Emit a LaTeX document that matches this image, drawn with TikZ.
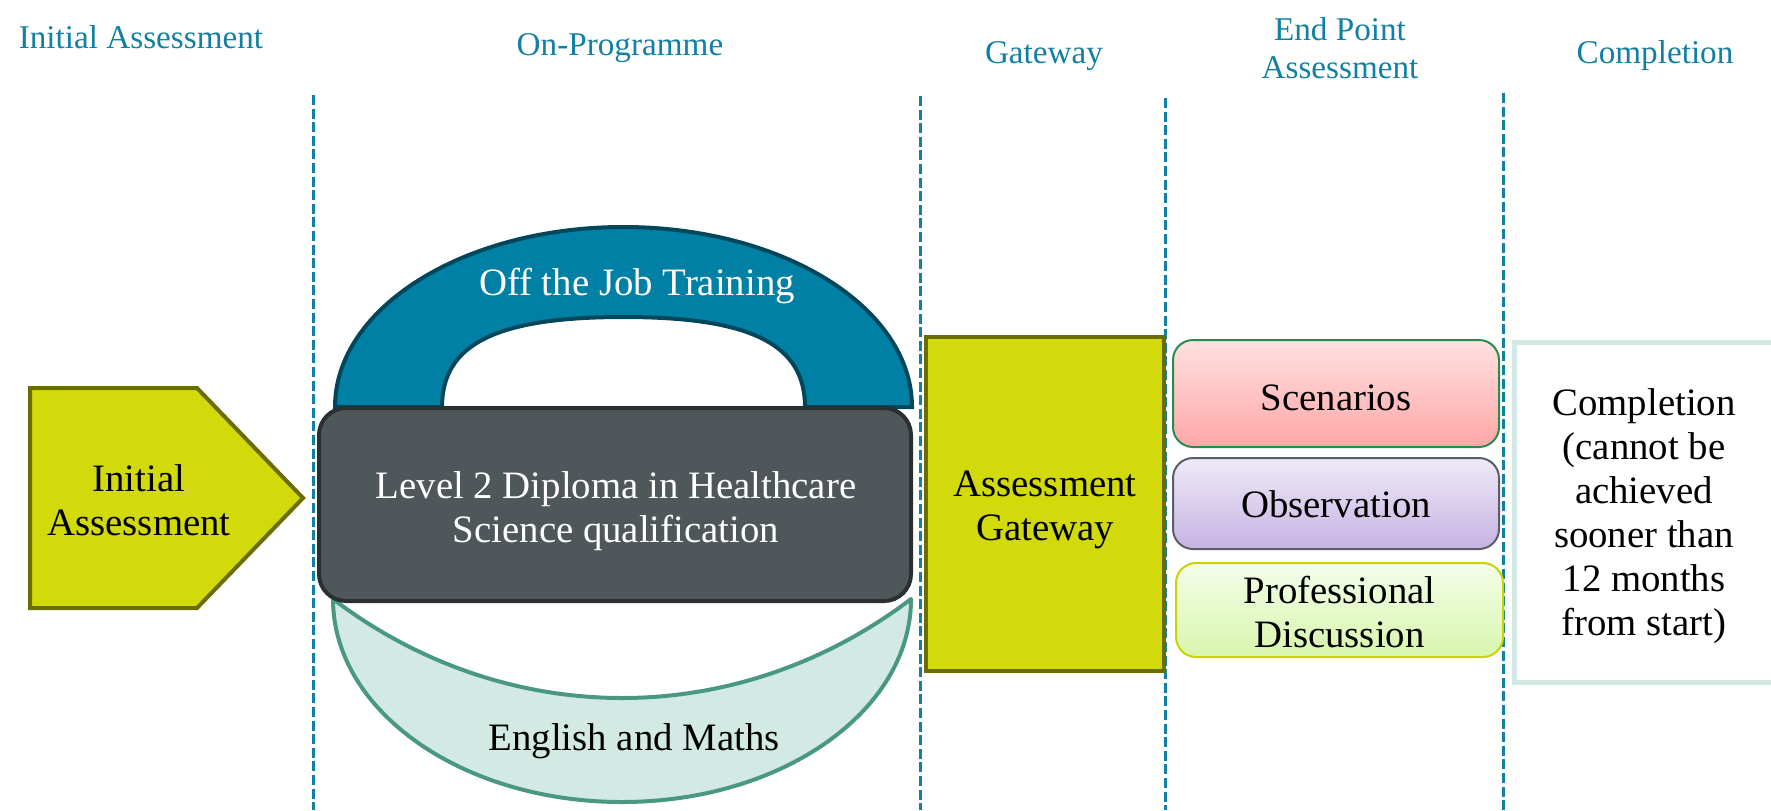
\documentclass[tikz,border=0pt]{standalone}
\usepackage{fontspec}
\setmainfont{Liberation Serif}
\usetikzlibrary{shadings}

\definecolor{hdrblue}{RGB}{17,128,163}
\definecolor{lime}{RGB}{210,218,12}
\definecolor{olive}{RGB}{107,109,0}
\definecolor{slate}{RGB}{80,87,90}
\definecolor{slateline}{RGB}{43,47,49}
\definecolor{archfill}{RGB}{0,128,164}
\definecolor{archline}{RGB}{0,71,92}
\definecolor{mint}{RGB}{211,234,228}
\definecolor{mintline}{RGB}{74,152,130}
\definecolor{pinktop}{RGB}{255,225,225}
\definecolor{pinkbot}{RGB}{255,166,166}
\definecolor{pinkline}{RGB}{40,140,80}
\definecolor{lavtop}{RGB}{239,234,248}
\definecolor{lavbot}{RGB}{198,179,227}
\definecolor{lavline}{RGB}{90,94,102}
\definecolor{greentop}{RGB}{244,253,234}
\definecolor{greenbot}{RGB}{216,246,172}
\definecolor{greenline}{RGB}{201,213,0}

\tikzset{
  hdr/.style={text=hdrblue, inner sep=0.75pt, align=center, font=\fontsize{16.6}{19}\selectfont},
  body/.style={inner sep=0.75pt, align=center, font=\fontsize{19.4}{22}\selectfont},
  phase/.style={draw=hdrblue, line width=1.5pt, dash pattern=on 5pt off 1.8pt},
  limebox/.style={draw=olive, fill=lime, line width=2pt},
  arch/.style={draw=archline, fill=archfill, line width=2pt},
  bowl/.style={draw=mintline, fill=mint, line width=2pt, line join=round},
  slatebox/.style={draw=slateline, fill=slate, line width=2pt, rounded corners=13.5pt},
  epa/.style={line width=1pt, rounded corners=10pt, minimum width=163pt},
  donebox/.style={draw=mint, fill=white, line width=2.5pt}
}

\begin{document}
\begin{tikzpicture}[x=0.5pt,y=0.5pt,yscale=-1]
\useasboundingbox (0,0) rectangle (1771,810);

%Straight Lines: phase dividers
\draw [phase] (313,95) -- (313,810) ;
\draw [phase] (920,96) -- (920,810) ;
\draw [phase] (1165,98) -- (1165,810) ;
\draw [phase] (1503,93) -- (1503,810) ;

%Shape: Pentagon
\draw [limebox] (30,388) -- (197,388) -- (303,498) -- (197,608) -- (30,608) -- cycle ;

%Shape: Arch
\draw [arch] (335,407) .. controls (335,307.6) and (464.2,227) .. (623.5,227) .. controls (782.8,227) and (912,307.6) .. (912,407) -- (805,407) .. controls (805,344) and (750.6,317) .. (623.5,317) .. controls (496.4,317) and (442,344) .. (442,407) -- cycle ;

%Shape: Bowl
\draw [bowl] (333,599) .. controls (333,711.1) and (462.4,802) .. (622,802) .. controls (781.6,802) and (911,711.1) .. (911,599) .. controls (827.7,662.4) and (726.7,698) .. (622,698) .. controls (517.3,698) and (416.3,662.4) .. (333,599) -- cycle ;

%Shape: Rounded Rect
\node (diploma) [slatebox, minimum width=296pt, minimum height=96.5pt] at (615,504.5) {};
%Shape: Rectangle
\node (gateway) [limebox, minimum width=119pt, minimum height=167pt] at (1045,504) {};
%Shape: Rounded Rects
\node (scenarios) [epa, draw=pinkline, top color=pinktop, bottom color=pinkbot, minimum height=53.5pt] at (1336,393.5) {};
\node (observation) [epa, draw=lavline, top color=lavtop, bottom color=lavbot, minimum height=45.5pt] at (1336,503.5) {};
\node (discussion) [epa, draw=greenline, top color=greentop, bottom color=greenbot, minimum height=47pt, minimum width=163.5pt] at (1339.5,610) {};
%Shape: Rectangle
\node (completion) [donebox, minimum width=129.75pt, minimum height=170pt] at (1644.25,512.5) {};

% Text Node
\draw (139,499.75) node (initialtxt) [body] {Initial\\Assessment};
% Text Node
\draw (616,511.5) node (diplomatxt) [body, text=white] {Level 2 Diploma in Healthcare\\Science qualification};
% Text Node
\draw (637,295) node (offjobtxt) [body, text=white, anchor=base] {Off the Job Training};
% Text Node
\draw (634,750) node (engmathstxt) [body, anchor=base] {English and Maths};
% Text Node
\draw (1045,510) node (gatewaytxt) [body] {Assessment\\Gateway};
% Text Node
\draw (1336,397.5) node (scenariostxt) [body] {Scenarios};
% Text Node
\draw (1336,504.5) node (observationtxt) [body] {Observation};
% Text Node
\draw (1339.5,612) node (discussiontxt) [body] {Professional\\Discussion};
% Text Node
\draw (1644,516.5) node (completiontxt) [body] {Completion\\(cannot be\\achieved\\sooner than\\12 months\\from start)};

% Text Node
\draw (141,48) node (hdrinit) [hdr, anchor=base] {Initial Assessment};
% Text Node
\draw (620,55) node (hdrprog) [hdr, anchor=base] {On-Programme};
% Text Node
\draw (1044,63) node (hdrgate) [hdr, anchor=base] {Gateway};
% Text Node
\draw (1340,48.5) node (hdrepa) [hdr] {End Point\\Assessment};
% Text Node
\draw (1655,63) node (hdrdone) [hdr, anchor=base] {Completion};

\end{tikzpicture}
\end{document}
